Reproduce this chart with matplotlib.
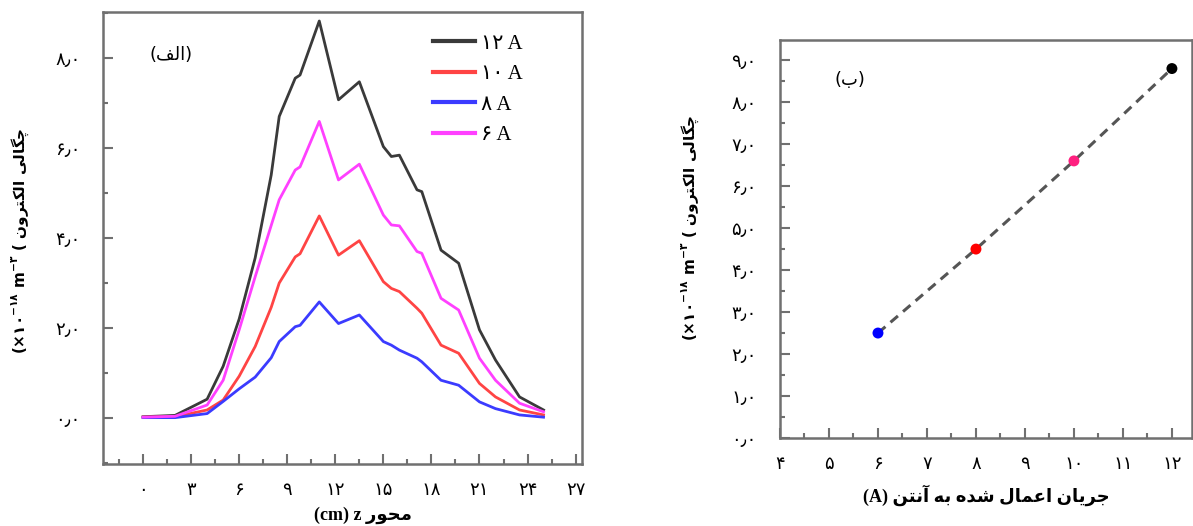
import matplotlib
matplotlib.use('Agg')
import matplotlib.pyplot as plt
from matplotlib.ticker import MultipleLocator, FixedLocator

plt.rcParams['font.family'] = ['DejaVu Sans']
plt.rcParams['mathtext.fontset'] = 'dejavusans'

# ---------------- data ----------------
z_cm = [0, 2, 4, 5, 6, 7, 8, 8.5, 9.5, 9.8, 11, 12.2, 13.5, 15, 15.5, 16,
        17.1, 17.4, 18.6, 19.7, 21, 22, 23.5, 25]
n_12A = [0.03, 0.06, 0.42, 1.15, 2.2, 3.56, 5.4, 6.7, 7.55, 7.62, 8.82, 7.07,
         7.47, 6.03, 5.81, 5.84, 5.07, 5.03, 3.73, 3.44, 1.96, 1.29, 0.47, 0.18]
n_10A = [0.02, 0.03, 0.18, 0.40, 0.93, 1.59, 2.46, 3.0, 3.58, 3.65, 4.49, 3.62,
         3.94, 3.03, 2.88, 2.81, 2.44, 2.33, 1.62, 1.44, 0.77, 0.47, 0.18, 0.07]
n_8A = [0.01, 0.01, 0.10, 0.37, 0.65, 0.91, 1.34, 1.7, 2.03, 2.06, 2.58, 2.10,
        2.29, 1.70, 1.62, 1.51, 1.33, 1.25, 0.84, 0.73, 0.36, 0.21, 0.07, 0.02]
n_6A = [0.02, 0.04, 0.29, 0.84, 1.96, 3.14, 4.28, 4.85, 5.51, 5.58, 6.59, 5.29,
        5.64, 4.51, 4.29, 4.27, 3.70, 3.66, 2.66, 2.40, 1.33, 0.84, 0.33, 0.14]
series_labels = ['12', '10', '8', '6']

current_A = [6, 8, 10, 12]
peak_density = [2.5, 4.5, 6.6, 8.8]

left_xticks = [0, 3, 6, 9, 12, 15, 18, 21, 24, 27]
left_yticks = [0, 2, 4, 6, 8]
right_xticks = [4, 5, 6, 7, 8, 9, 10, 11, 12]
right_yticks = [0, 1, 2, 3, 4, 5, 6, 7, 8, 9]

# ---------------- Persian text helpers ----------------
_FORMS = {  # isolated, final, initial, medial
    'ا': ('\uFE8D', '\uFE8E', None, None),
    'آ': ('\uFE81', '\uFE82', None, None),
    'ب': ('\uFE8F', '\uFE90', '\uFE91', '\uFE92'),
    'ت': ('\uFE95', '\uFE96', '\uFE97', '\uFE98'),
    'ج': ('\uFE9D', '\uFE9E', '\uFE9F', '\uFEA0'),
    'ح': ('\uFEA1', '\uFEA2', '\uFEA3', '\uFEA4'),
    'د': ('\uFEA9', '\uFEAA', None, None),
    'ر': ('\uFEAD', '\uFEAE', None, None),
    'ش': ('\uFEB5', '\uFEB6', '\uFEB7', '\uFEB8'),
    'ع': ('\uFEC9', '\uFECA', '\uFECB', '\uFECC'),
    'ف': ('\uFED1', '\uFED2', '\uFED3', '\uFED4'),
    'ل': ('\uFEDD', '\uFEDE', '\uFEDF', '\uFEE0'),
    'م': ('\uFEE1', '\uFEE2', '\uFEE3', '\uFEE4'),
    'ن': ('\uFEE5', '\uFEE6', '\uFEE7', '\uFEE8'),
    'ه': ('\uFEE9', '\uFEEA', '\uFEEB', '\uFEEC'),
    'و': ('\uFEED', '\uFEEE', None, None),
    '\u06CC': ('\uFBFC', '\uFBFD', '\uFBFE', '\uFBFF'),
    '\u064A': ('\uFBFC', '\uFBFD', '\uFBFE', '\uFBFF'),
    'چ': ('\uFB7A', '\uFB7B', '\uFB7C', '\uFB7D'),
    'گ': ('\uFB92', '\uFB93', '\uFB94', '\uFB95'),
    '\u06A9': ('\uFB8E', '\uFB8F', '\uFB90', '\uFB91'),
    '\u0643': ('\uFB8E', '\uFB8F', '\uFB90', '\uFB91'),
}


def _shape_word(w):
    out = []
    for i, c in enumerate(w):
        f = _FORMS[c]
        prev_joins = i > 0 and _FORMS[w[i - 1]][2] is not None
        next_join = f[2] is not None and i < len(w) - 1
        if prev_joins and next_join:
            g = f[3]
        elif prev_joins:
            g = f[1]
        elif next_join:
            g = f[2]
        else:
            g = f[0]
        out.append(g)
    return ''.join(reversed(out))


def rtl(text):
    return ' '.join(_shape_word(w) for w in reversed(text.split()))


_DIG = str.maketrans('0123456789', '۰۱۲۳۴۵۶۷۸۹')


def fa(s):
    return str(s).translate(_DIG)


def fa_dec(v):
    return fa(int(v)) + '\u066B' + fa(0)


# ---------------- figure ----------------
W, H = 1193, 526
fig = plt.figure(figsize=(W / 100, H / 100), dpi=100)
ax1 = fig.add_axes([103 / W, 1 - 464 / H, 479 / W, 452 / H])
ax2 = fig.add_axes([780 / W, 1 - 438 / H, 412 / W, 398 / H])

spine_c = '#707070'
for ax in (ax1, ax2):
    for s in ax.spines.values():
        s.set_color(spine_c)
        s.set_linewidth(1.8)
    ax.tick_params(which='both', direction='in', color=spine_c, width=1.5,
                   top=False, right=False, labelcolor='black')
    ax.tick_params(which='major', length=7)
    ax.tick_params(which='minor', length=3.5)

# ---- left panel ----
line_colors = ['#3a3a3a', '#ff4444', '#3b3bff', '#ff40ff']
handles = []
for ys, lab, col in zip([n_12A, n_10A, n_8A, n_6A], series_labels, line_colors):
    h, = ax1.plot(z_cm, ys, color=col, lw=2.0, label=fa(lab) + ' A')
    handles.append(h)

ax1.set_xlim(-2.5, 27.4)
ax1.set_ylim(-1.02, 9.02)
ax1.xaxis.set_major_locator(FixedLocator(left_xticks))
ax1.set_xticklabels([fa(t) for t in left_xticks], fontsize=13)
ax1.xaxis.set_minor_locator(MultipleLocator(1.5))
ax1.yaxis.set_major_locator(FixedLocator(left_yticks))
ax1.set_yticklabels([fa_dec(t) for t in left_yticks], fontsize=13)
ax1.yaxis.set_minor_locator(MultipleLocator(1))
ax1.tick_params(axis='x', which='major', pad=12)
ax1.tick_params(axis='y', which='major', pad=16)

leg = ax1.legend(handles=handles, loc='upper left', bbox_to_anchor=(0.689, 0.951),
                 frameon=False, handlelength=2.0, handletextpad=0.3,
                 labelspacing=0.52, borderpad=0, borderaxespad=0,
                 prop={'family': ['Liberation Serif', 'DejaVu Sans'], 'size': 15})
for l in leg.get_lines():
    l.set_linewidth(3)

ax1.text(0.142, 0.905, '(' + rtl('الف') + ')', transform=ax1.transAxes,
         ha='center', va='center', fontsize=13)

ax1.set_xlabel('(cm) z ' + rtl('محور'), fontsize=13, fontweight='bold',
               family=['Liberation Serif', 'DejaVu Sans'])
ax1.xaxis.set_label_coords(0.543, -0.095)

ylab = ('(×' + fa(10) + r'$^{\mathbf{-' + fa(18) + r'}}$ m$^{\mathbf{-' + fa(3) +
        r'}}$ ( ' + rtl('چگالی الکترون'))
ax1.set_ylabel(ylab, fontsize=11, fontweight='bold')
ax1.yaxis.set_label_coords(-0.150, 0.493)

# ---- right panel ----
ax2.plot(current_A, peak_density, color='#555555', lw=2.2, dashes=(3.2, 2.2), zorder=2)
ax2.scatter(current_A, peak_density, s=62, c=['#0000ff', '#ff0000', '#ff2080', '#000000'],
            zorder=3, linewidths=0)
ax2.set_xlim(4, 12.41)
ax2.set_ylim(0, 9.48)
ax2.xaxis.set_major_locator(FixedLocator(right_xticks))
ax2.set_xticklabels([fa(t) for t in right_xticks], fontsize=13)
ax2.xaxis.set_minor_locator(MultipleLocator(0.5))
ax2.yaxis.set_major_locator(FixedLocator(right_yticks))
ax2.set_yticklabels([fa_dec(t) for t in right_yticks], fontsize=13)
ax2.yaxis.set_minor_locator(MultipleLocator(0.5))
ax2.tick_params(axis='x', which='major', pad=12)
ax2.tick_params(axis='y', which='major', pad=17)

ax2.text(0.170, 0.899, '(' + rtl('ب') + ')', transform=ax2.transAxes,
         ha='center', va='center', fontsize=13)

ax2.set_xlabel('(A) ' + rtl('جریان اعمال شده به آنتن'), fontsize=13, fontweight='bold',
               family=['Liberation Serif', 'DejaVu Sans'])
ax2.xaxis.set_label_coords(0.5, -0.118)
ax2.set_ylabel(ylab, fontsize=11, fontweight='bold')
ax2.yaxis.set_label_coords(-0.192, 0.528)

fig.savefig('out.png', dpi=100)
